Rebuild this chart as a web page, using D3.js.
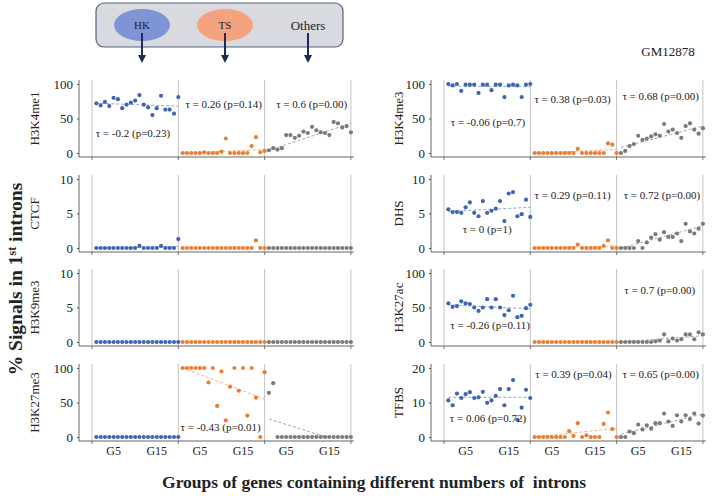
<!DOCTYPE html>
<html><head><meta charset="utf-8">
<script src="https://cdn.jsdelivr.net/npm/d3@7"></script>
<style>body{margin:0;background:#fff}svg{display:block}</style>
</head><body><svg id="c" width="720" height="496"></svg>
<script>
// ---------------- DATA ----------------
const groups = ["HK", "TS", "Others"];
const genes = d3.range(1, 21);            // G1 .. G20
const geneLabels = genes.map(i => "G" + i);
const xTickLabels = ["G5", "G15"];
const marks = ["H3K4me1", "CTCF", "H3K9me3", "H3K27me3", "H3K4me3", "DHS", "H3K27ac", "TFBS"];
const yMaxes = [100, 10, 10, 100, 100, 10, 100, 20];
const yTickVals = [[0,50,100],[0,5,10],[0,5,10],[0,50,100],[0,50,100],[0,5,10],[0,50,100],[0,10,20]];
const cellName = "GM12878";

const H3K4me1_HK = [72,69,74,68,80,78,65,70,73,76,84,70,66,55,65,83,63,63,57,81];
const H3K4me1_TS = [0,0,0,0,0,1,0,0,0,2,21,0,0,0,0,0,10,23,1,3];
const H3K4me1_OT = [4,7,5,7,26,26,22,25,31,29,38,33,30,29,26,45,43,37,39,30];
const H3K4me1_trend = [[72,68],[0,5],[4,43]];
const H3K4me1_tau = ["τ = -0.2 (p=0.23)", "τ = 0.26 (p=0.14)", "τ = 0.6 (p=0.00)"];

const CTCF_HK = [0,0,0,0,0,0,0,0,0,0,0.3,0,0,0,0,0.3,0,0,0,1.3];
const CTCF_TS = [0,0,0,0,0,0,0,0,0,0,0,0,0,0,0,0,0,1.1,0,0];
const CTCF_OT = [0,0,0,0,0,0,0,0,0,0,0,0,0,0,0,0,0,0,0,0];
const CTCF_trend = [[0,0.2],null,null];
const CTCF_tau = [null, null, null];

const H3K9me3_HK = [0,0,0,0,0,0,0,0,0,0,0,0,0,0,0,0,0,0,0,0];
const H3K9me3_TS = [0,0,0,0,0,0,0,0,0,0,0,0,0,0,0,0,0,0,0,0];
const H3K9me3_OT = [0,0,0,0,0,0,0,0,0,0,0,0,0,0,0,0,0,0,0,0];
const H3K9me3_trend = [null,null,null];
const H3K9me3_tau = [null, null, null];

const H3K27me3_HK = [0,0,0,0,0,0,0,0,0,0,0,0,0,0,0,0,0,0,0,0];
const H3K27me3_TS = [100,100,100,100,100,100,79,100,45,95,24,73,100,67,100,31,100,57,0,94];
const H3K27me3_OT = [64,78,0,0,0,0,0,0,0,0,0,0,0,0,0,0,0,0,0,0];
const H3K27me3_trend = [null,[100,55],[26,-11]];
const H3K27me3_tau = [null, "τ = -0.43 (p=0.01)", null];

const H3K4me3_HK = [100,98,100,90,99,99,99,87,99,99,91,99,99,81,98,99,98,81,99,100];
const H3K4me3_TS = [0,0,0,0,0,0,0,0,0,0,6,0,0,0,0,0,0,14,12,0];
const H3K4me3_OT = [0,3,10,13,25,19,21,24,27,25,42,31,34,29,22,39,43,34,28,36];
const H3K4me3_trend = [[97,96],[0,5],[8,39]];
const H3K4me3_tau = ["τ = -0.06 (p=0.7)", "τ = 0.38 (p=0.03)", "τ = 0.68 (p=0.00)"];

const DHS_HK = [5.6,5.2,5.2,5.1,5.9,6.6,5.1,4.6,6.8,5.1,5.4,5.7,6.8,3.9,7.9,8.1,4.6,4.9,7.0,4.5];
const DHS_TS = [0,0,0,0,0,0,0,0,0,0,0.5,0,0,0,0,0,0.3,1.1,0,0];
const DHS_OT = [0,0,0,0,1.0,0,0.8,1.5,2.0,1.2,2.3,1.6,1.6,2.1,1.0,3.5,2.4,2.1,2.8,3.5];
const DHS_trend = [[5.3,5.9],[0,0.3],[0,3.2]];
const DHS_tau = ["τ = 0 (p=1)", "τ = 0.29 (p=0.11)", "τ = 0.72 (p=0.00)"];

const H3K27ac_HK = [56,51,52,59,56,55,50,45,50,62,50,62,50,39,46,67,36,38,49,54];
const H3K27ac_TS = [0,0,0,0,0,0,0,0,0,0,0,0,0,0,0,0,0,0,0,0];
const H3K27ac_OT = [0,0,0,0,0,0,0,0,1,2,11,1,5,2,4,11,11,4,14,11];
const H3K27ac_trend = [[54,48],null,[0,9]];
const H3K27ac_tau = ["τ = -0.26 (p=0.11)", null, "τ = 0.7 (p=0.00)"];

const TFBS_HK = [10.6,9.2,12.6,11.3,12.4,13.0,11.3,11.5,13.1,9.9,10.6,11.9,13.9,9.2,13.9,16.5,5.0,8.5,13.7,11.3];
const TFBS_TS = [0,0,0,0,0,0,0,0,1.7,0.3,4.0,0,0.5,0,0,0,3.8,7.1,2.3,0];
const TFBS_OT = [0,0,1.6,1.1,3.6,2.2,3.4,2.4,4.0,4.0,6.8,4.5,3.2,6.3,4.5,6.3,5.2,6.8,3.9,6.2];
const TFBS_trend = [[11.5,11.5],[0,2.5],[0.8,6.7]];
const TFBS_tau = ["τ = 0.06 (p=0.72)", "τ = 0.39 (p=0.04)", "τ = 0.65 (p=0.00)"];

// ---------------- LAYOUT ----------------
const tauAnchor = {
  H3K4me1: [[9.5,29],[10.5,71],[10.9,71]],
  H3K27me3: [null,[9.8,14.5],null],
  H3K4me3: [[10.2,45],[9.8,78],[10.2,83]],
  DHS: [[10,2.75],[9.8,7.7],[10.5,7.7]],
  H3K27ac: [[10.7,25],null,[10,75]],
  TFBS: [[10.2,5.5],[10,18.3],[10.2,18.3]]
};
const colStart = [92, 444];
const groupW = 86.3;
const rowZero = [153, 248, 342, 437];
const plotH = 69;
const labelX = [34, 398];
const colors = {HK:"#4064b8", TS:"#ed7d31", Others:"#7b7b7b"};
const trendColors = {HK:"#8ea6dc", TS:"#f3b186", Others:"#a8a8a8"};
const SERIF = "'Liberation Serif','Times New Roman',serif";

const seriesTable = {
  H3K4me1:[H3K4me1_HK,H3K4me1_TS,H3K4me1_OT], CTCF:[CTCF_HK,CTCF_TS,CTCF_OT],
  H3K9me3:[H3K9me3_HK,H3K9me3_TS,H3K9me3_OT], H3K27me3:[H3K27me3_HK,H3K27me3_TS,H3K27me3_OT],
  H3K4me3:[H3K4me3_HK,H3K4me3_TS,H3K4me3_OT], DHS:[DHS_HK,DHS_TS,DHS_OT],
  H3K27ac:[H3K27ac_HK,H3K27ac_TS,H3K27ac_OT], TFBS:[TFBS_HK,TFBS_TS,TFBS_OT]
};
const trendTable = {H3K4me1:H3K4me1_trend, CTCF:CTCF_trend, H3K9me3:H3K9me3_trend, H3K27me3:H3K27me3_trend,
  H3K4me3:H3K4me3_trend, DHS:DHS_trend, H3K27ac:H3K27ac_trend, TFBS:TFBS_trend};
const tauTable = {H3K4me1:H3K4me1_tau, CTCF:CTCF_tau, H3K9me3:H3K9me3_tau, H3K27me3:H3K27me3_tau,
  H3K4me3:H3K4me3_tau, DHS:DHS_tau, H3K27ac:H3K27ac_tau, TFBS:TFBS_tau};

// ---------------- DRAW ----------------
const svg = d3.select("#c");
svg.append("rect").attr("width",720).attr("height",496).attr("fill","#fff");
const defs = svg.append("defs");

// legend box
const lg = svg.append("g");
lg.append("rect").attr("x",96).attr("y",3).attr("width",247).attr("height",44).attr("rx",8)
  .attr("fill","#d9dadf").attr("stroke","#56627e").attr("stroke-width",1.2);
const legX = {HK:142, TS:225, Others:308};
lg.append("ellipse").attr("cx",legX.HK).attr("cy",25).attr("rx",28).attr("ry",16).attr("fill","#7f94d4");
lg.append("ellipse").attr("cx",legX.TS).attr("cy",25).attr("rx",28).attr("ry",16).attr("fill","#f4a37e");
groups.forEach(g=>{
  lg.append("text").attr("x",legX[g]).attr("y",g==="Others"?30:29).attr("text-anchor","middle")
    .attr("font-family",SERIF).attr("font-size",g==="Others"?13:11).attr("fill","#1b1b2e").text(g);
  lg.append("line").attr("x1",legX[g]).attr("x2",legX[g]).attr("y1",33).attr("y2",56)
    .attr("stroke","#1e2a5a").attr("stroke-width",2);
  lg.append("path").attr("d",`M${legX[g]-4},55 L${legX[g]+4},55 L${legX[g]},63 Z`).attr("fill","#1e2a5a");
});

svg.append("text").attr("x",668).attr("y",56).attr("text-anchor","middle")
  .attr("font-family",SERIF).attr("font-size",13).attr("fill","#222").text(cellName);

marks.forEach((mark, mi)=>{
  const col = mi < 4 ? 0 : 1, row = mi % 4;
  const maxV = yMaxes[mi];
  const y = d3.scaleLinear().domain([0,maxV]).range([rowZero[row], rowZero[row]-plotH]);
  const top = y(maxV)-4, base = y(0)+4;
  const cs = colStart[col];
  const axX = cs - 13;
  const g = svg.append("g");

  d3.range(4).forEach(k=>{
    const xx = cs + k*groupW;
    g.append("line").attr("x1",xx).attr("x2",xx).attr("y1",top).attr("y2",base)
      .attr("stroke","#c4c4c4").attr("stroke-width",1);
    g.append("line").attr("x1",xx).attr("x2",xx).attr("y1",base).attr("y2",base+3)
      .attr("stroke","#555").attr("stroke-width",0.8);
  });
  g.append("line").attr("x1",axX).attr("x2",cs+3*groupW+3).attr("y1",base).attr("y2",base)
    .attr("stroke","#555").attr("stroke-width",0.9);
  const ya = g.append("g").attr("transform",`translate(${axX},0)`)
    .call(d3.axisLeft(y).tickValues(yTickVals[mi]).tickSize(2).tickPadding(4).tickFormat(d3.format("d")));
  ya.select(".domain").remove();
  ya.selectAll(".tick line").attr("stroke","#555");
  ya.selectAll(".tick text").attr("font-family",SERIF).attr("font-size",13).attr("fill","#222");
  g.append("line").attr("x1",axX).attr("x2",axX).attr("y1",top).attr("y2",base)
    .attr("stroke","#555").attr("stroke-width",0.9);

  const cy = (y(0)+y(maxV))/2;
  g.append("text").attr("transform",`translate(${labelX[col]},${cy}) rotate(-90)`)
    .attr("text-anchor","middle").attr("dy","0.35em")
    .attr("font-family",SERIF).attr("font-size",13).attr("fill","#222").text(mark);

  const cid = "clip"+mi;
  defs.append("clipPath").attr("id",cid).append("rect")
    .attr("x",cs-2).attr("y",top-10).attr("width",3*groupW+6).attr("height",y(0)-top+11);

  groups.forEach((grp, gi)=>{
    const gs = cs + gi*groupW;
    const x = d3.scaleLinear().domain([0,20]).range([gs, gs+groupW]);
    const vals = seriesTable[mark][gi];
    const tr = trendTable[mark][gi];
    if (tr) {
      g.append("line").attr("clip-path",`url(#${cid})`)
        .attr("x1",x(genes[0])).attr("y1",y(tr[0])).attr("x2",x(genes[genes.length-1])).attr("y2",y(tr[1]))
        .attr("stroke",trendColors[grp]).attr("stroke-width",1).attr("stroke-dasharray","3,2");
    }
    g.selectAll(null).data(vals).enter().append("circle")
      .attr("cx",(d,i)=>x(genes[i])).attr("cy",d=>y(d)).attr("r",2.1).attr("fill",colors[grp]);
    const tau = tauTable[mark][gi];
    if (tau) {
      const a = tauAnchor[mark][gi];
      g.append("text").attr("x",x(a[0])).attr("y",y(a[1])).attr("dy","0.35em").attr("text-anchor","middle")
        .attr("font-family",SERIF).attr("font-size",11).attr("fill","#222").text(tau);
    }
    if (row === 3) {
      xTickLabels.forEach(lbl=>{
        const gi2 = genes[geneLabels.indexOf(lbl)];
        g.append("text").attr("x",x(gi2)).attr("y",base+14).attr("text-anchor","middle")
          .attr("font-family",SERIF).attr("font-size",12).attr("fill","#222").text(lbl);
      });
    }
  });
});

// axis titles
const yt = svg.append("text").attr("transform","translate(22,279) rotate(-90)").attr("text-anchor","middle")
  .attr("font-family",SERIF).attr("font-size",19.5).attr("font-weight","bold").attr("fill","#222");
yt.append("tspan").text("% Signals in 1");
yt.append("tspan").attr("dy",-6).attr("font-size",12).text("st");
yt.append("tspan").attr("dy",6).text(" introns");

svg.append("text").attr("x",374).attr("y",488).attr("text-anchor","middle")
  .style("white-space","pre")
  .attr("font-family",SERIF).attr("font-size",17.5).attr("font-weight","bold").attr("fill","#222")
  .text("Groups of genes containing different numbers of  introns");
</script></body></html>
